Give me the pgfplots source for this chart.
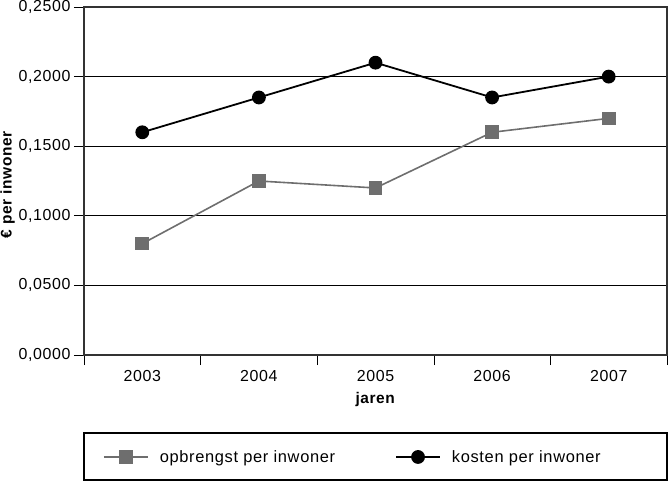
\documentclass[border=0pt]{standalone}
\usepackage{pgfplots}
\pgfplotsset{compat=1.18}
\usetikzlibrary{calc}
\usepackage{fontspec}
\setmainfont[LetterSpace=4]{Liberation Sans}
\definecolor{grijs}{RGB}{110,110,110}
\begin{document}
\begin{tikzpicture}
\begin{axis}[
  name=ax,
  scale only axis,
  width=583bp, height=348bp,
  xmin=-0.5, xmax=4.5,
  ymin=0, ymax=0.25,
  clip=false,
  axis line style={line width=1.5bp, black!80},
  xtick pos=bottom, ytick pos=left,
  xtick={0,1,2,3,4},
  xticklabels={2003,2004,2005,2006,2007},
  minor xtick={-0.5,0.5,1.5,2.5,3.5,4.5},
  major x tick style={draw=none},
  minor tick length=10bp,
  tick align=outside,
  ytick={0,0.05,0.1,0.15,0.2,0.25},
  major tick length=10bp,
  tick style={black, line width=0.6bp},
  ymajorgrids,
  major grid style={black, line width=0.8bp},
  y tick label style={/pgf/number format/.cd, fixed, fixed zerofill, precision=4, use comma, assume math mode=true},
  tick label style={font=\fontsize{16}{18}\selectfont},
  xticklabel style={yshift=-2bp},
  xlabel={\textbf{jaren}},
  xlabel style={at={(axis description cs:0.5,-0.129)}, anchor=center, font=\fontsize{15.5}{17}\selectfont},
  ylabel={\textbf{€ per inwoner}},
  ylabel style={at={(axis description cs:-0.131,0.49)}, anchor=center, font=\fontsize{15.5}{17}\selectfont},
  legend columns=2,
  legend style={draw=none, fill=none, at={(axis description cs:0.0274,-0.293)}, anchor=west,
    font=\fontsize{16.5}{18}\selectfont,
    /tikz/every odd column/.append style={column sep=9bp},
    /tikz/every even column/.append style={column sep=58bp}},
  legend image code/.code={\draw[mark repeat=2, mark phase=2, #1] plot coordinates {(0bp,0bp) (22bp,0bp) (44bp,0bp)};},
]
\addplot[grijs, line width=1.6bp, mark=square*, mark size=6bp, mark options={fill=grijs, draw=none}]
  coordinates {(0,0.080) (1,0.125) (2,0.120) (3,0.160) (4,0.170)};
\addlegendentry{opbrengst per inwoner}
\addplot[black, line width=1.8bp, mark=*, mark size=6bp, mark options={fill=black, draw=none}]
  coordinates {(0,0.160) (1,0.185) (2,0.210) (3,0.185) (4,0.200)};
\addlegendentry{kosten per inwoner}
\draw[black, line width=1.6bp] (axis description cs:0,-0.2241) rectangle (axis description cs:1,-0.3592);
\end{axis}
\pgfresetboundingbox
\path[use as bounding box] ($(ax.south west)+(-84bp,-127bp)$) rectangle ($(ax.north east)+(1bp,7bp)$);
\end{tikzpicture}
\end{document}
